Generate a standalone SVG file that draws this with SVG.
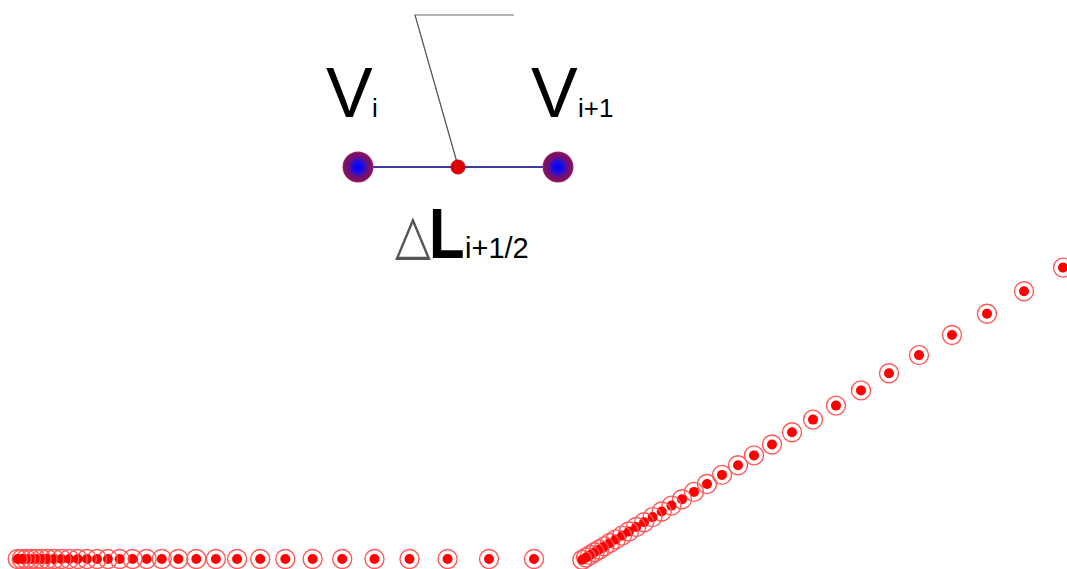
<svg xmlns="http://www.w3.org/2000/svg" xmlns:xlink="http://www.w3.org/1999/xlink" width="1067" height="569" viewBox="0 0 1067 569">
<style>
.lbl{font-family:"Liberation Sans",Arial,sans-serif;fill:#000}
.big{font-size:70px}
.sub{font-size:26px}
.ring{fill:none;stroke:#ff5a5a;stroke-width:1.4}
.core{fill:#ff0000}
</style>
<defs>
<radialGradient id="vg" cx="0.5" cy="0.5" r="0.5">
<stop offset="0" stop-color="#0000ff"/>
<stop offset="0.45" stop-color="#2a10d0"/>
<stop offset="0.6" stop-color="#6a1080"/>
<stop offset="0.9" stop-color="#801060"/>
<stop offset="1" stop-color="#b03070"/>
</radialGradient>
<g id="pt"><circle class="ring" r="9.5"/><circle class="core" r="5"/></g>
</defs>
<rect width="1067" height="569" fill="#fff"/>
<g id="connectors">
<line x1="358" y1="167" x2="558" y2="167" stroke="#3a3aa0" stroke-width="2"/>
<polyline points="458,166 415,15 514,15" fill="none" stroke="#9a9a9a" stroke-width="1.3"/>
<line x1="458" y1="166" x2="415" y2="15" stroke="#555" stroke-width="1"/>
</g>
<g id="node-vi">
<circle cx="358" cy="167" r="15.5" fill="url(#vg)"/>
<text class="lbl big" x="326" y="117">V</text><text class="lbl sub" x="372" y="117">i</text>
</g>
<g id="node-vi1">
<circle cx="558" cy="167" r="15.5" fill="url(#vg)"/>
<text class="lbl big" x="531" y="117">V</text><text class="lbl sub" x="578" y="117">i+1</text>
</g>
<g id="node-mid">
<circle cx="458" cy="167" r="7" fill="#e00000" stroke="#c00010" stroke-width="1"/>
</g>
<g id="label-dl">
<text transform="translate(395,252.5) scale(1.06,1.27)" x="0" y="0" style="font-family:'DejaVu Sans',sans-serif;font-size:44px;fill:#555">△</text>
<text class="lbl" transform="translate(429,258) scale(0.82,1)" x="0" y="0" style="font-size:71px;font-weight:bold">L</text>
<text class="lbl" x="465" y="258" style="font-size:29px">i+1/2</text>
</g>
<g id="mesh-points">
<use xlink:href="#pt" x="534" y="559"/><use xlink:href="#pt" x="489" y="559"/><use xlink:href="#pt" x="447.6" y="559"/><use xlink:href="#pt" x="409.5" y="559"/><use xlink:href="#pt" x="374.5" y="559"/><use xlink:href="#pt" x="342.2" y="559"/><use xlink:href="#pt" x="312.6" y="559"/><use xlink:href="#pt" x="285.3" y="559"/><use xlink:href="#pt" x="260.2" y="559"/><use xlink:href="#pt" x="237.1" y="559"/><use xlink:href="#pt" x="215.9" y="559"/><use xlink:href="#pt" x="196.3" y="559"/><use xlink:href="#pt" x="178.3" y="559"/><use xlink:href="#pt" x="161.8" y="559"/><use xlink:href="#pt" x="146.6" y="559"/><use xlink:href="#pt" x="132.6" y="559"/><use xlink:href="#pt" x="119.7" y="559"/><use xlink:href="#pt" x="107.9" y="559"/><use xlink:href="#pt" x="97" y="559"/><use xlink:href="#pt" x="86.9" y="559"/><use xlink:href="#pt" x="77.7" y="559"/><use xlink:href="#pt" x="69.2" y="559"/><use xlink:href="#pt" x="61.4" y="559"/><use xlink:href="#pt" x="54.2" y="559"/><use xlink:href="#pt" x="47.6" y="559"/><use xlink:href="#pt" x="41.5" y="559"/><use xlink:href="#pt" x="35.9" y="559"/><use xlink:href="#pt" x="30.8" y="559"/><use xlink:href="#pt" x="26" y="559"/><use xlink:href="#pt" x="21.7" y="559"/><use xlink:href="#pt" x="17.7" y="559"/>
<use xlink:href="#pt" x="1063" y="267.6"/><use xlink:href="#pt" x="1024" y="291.3"/><use xlink:href="#pt" x="987" y="313.8"/><use xlink:href="#pt" x="952" y="335"/><use xlink:href="#pt" x="919" y="355.1"/><use xlink:href="#pt" x="889" y="373.3"/><use xlink:href="#pt" x="861" y="390.4"/><use xlink:href="#pt" x="836" y="405.6"/><use xlink:href="#pt" x="813" y="419.6"/><use xlink:href="#pt" x="792" y="432.3"/><use xlink:href="#pt" x="772" y="444.5"/><use xlink:href="#pt" x="754" y="455.4"/><use xlink:href="#pt" x="738" y="465.2"/><use xlink:href="#pt" x="722" y="474.9"/><use xlink:href="#pt" x="707" y="484"/><use xlink:href="#pt" x="694" y="491.9"/><use xlink:href="#pt" x="682" y="499.2"/><use xlink:href="#pt" x="671.5" y="505.6"/><use xlink:href="#pt" x="661.7" y="511.5"/><use xlink:href="#pt" x="652.6" y="517.1"/><use xlink:href="#pt" x="644.1" y="522.2"/><use xlink:href="#pt" x="636.2" y="527"/><use xlink:href="#pt" x="628.9" y="531.5"/><use xlink:href="#pt" x="622.1" y="535.6"/><use xlink:href="#pt" x="615.8" y="539.4"/><use xlink:href="#pt" x="609.9" y="543"/><use xlink:href="#pt" x="604.4" y="546.4"/><use xlink:href="#pt" x="599.3" y="549.5"/><use xlink:href="#pt" x="594.6" y="552.3"/><use xlink:href="#pt" x="590.2" y="555"/><use xlink:href="#pt" x="586.1" y="557.5"/><use xlink:href="#pt" x="582.3" y="559.8"/>
</g>
</svg>
